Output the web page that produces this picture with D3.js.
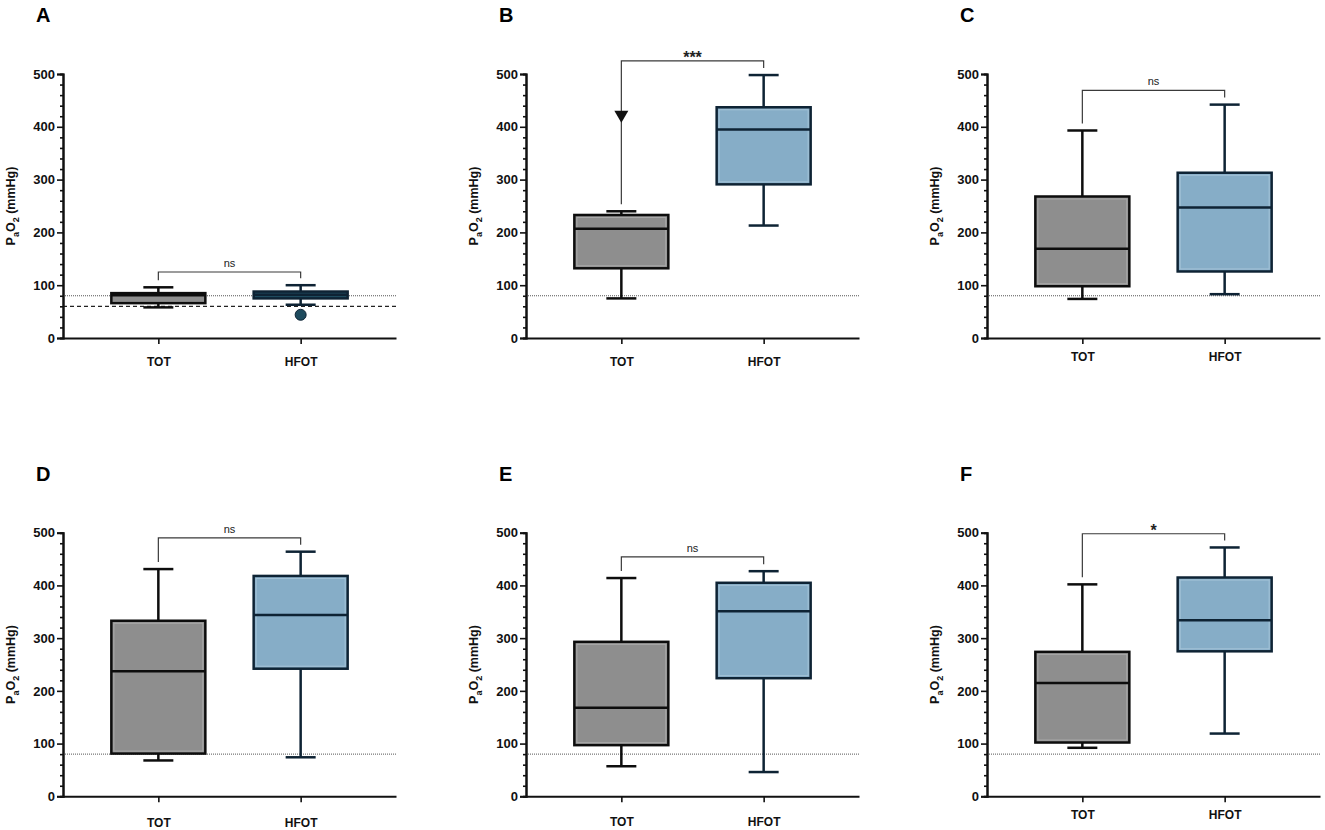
<!DOCTYPE html>
<html>
<head>
<meta charset="utf-8">
<script src="https://cdn.jsdelivr.net/npm/d3@7"></script>
<style>
  body { margin: 0; background: #fff; }
  text { font-family: "Liberation Sans", Arial, sans-serif; }
</style>
</head>
<body>
<div id="place"></div>
<script>
// values (mmHg)
const panels = ["A", "B", "C", "D", "E", "F"];
const groups = ["TOT", "HFOT"];

const totMin = [58, 75, 74, 68, 57, 92];
const totQ1  = [66, 132, 98, 81, 97, 102];
const totMed = [81, 207, 169, 237, 168, 215];
const totQ3  = [85, 233, 268, 333, 293, 274];
const totMax = [96, 240, 393, 431, 414, 402];

const hfotMin = [63, 213, 83, 74, 46, 119];
const hfotQ1  = [75, 291, 126, 242, 224, 275];
const hfotMed = [82, 395, 247, 344, 351, 334];
const hfotQ3  = [88, 437, 313, 418, 405, 415];
const hfotMax = [100, 498, 442, 464, 427, 472];

const bracketAt = [125, 525, 469, 490, 454, 498];
const sigLabels = ["ns", "***", "ns", "ns", "ns", "*"];

const outliers = [{ panel: "A", group: "HFOT", value: 44 }];
const arrowMarks = [{ panel: "B", group: "TOT", value: 419 }];

const yTicks = [0, 100, 200, 300, 400, 500];
const yMinorTicks = d3.range(0, 501, 20).filter(v => v % 100 !== 0);
const dottedRef = 80;
const dashedRef = { panel: "A", value: 60 };

(function() {

	const W = 1325, H = 830;
	const svg = d3.select("#place").append("svg")
		.attr("width", W)
		.attr("height", H);

	// layout of the 3x2 grid
	const colX = [63, 526, 987];
	const rowTop = [74, 532.7];
	const rowBottom = [338, 796.3];
	const plotW = 333;
	const labelPad = { A: 13, B: 13, C: 8, D: 16, E: 15, F: 8 };

	const fills = { TOT: "#8e8e8e", HFOT: "#86adc7" };
	const inner = { TOT: "#ababab", HFOT: "#a6c4d8" };
	const strokes = { TOT: "#0d0d0d", HFOT: "#0e2334" };

	panels.forEach((p, i) => {
		const col = i % 3, row = Math.floor(i / 3);
		const x0 = colX[col];

		const y = d3.scaleLinear().domain([0, 500]).range([rowBottom[row], rowTop[row]]);
		const x = d3.scalePoint().domain(groups).range([x0, x0 + plotW]).padding(0.67);

		const g = svg.append("g").attr("class", "panel-" + p);

		// panel letter
		g.append("text")
			.attr("x", x0 - 27)
			.attr("y", rowTop[row] - 52)
			.style("font-size", "20px")
			.style("font-weight", "bold")
			.text(p);

		// reference lines
		g.append("line")
			.attr("x1", x0).attr("x2", x0 + plotW)
			.attr("y1", y(dottedRef)).attr("y2", y(dottedRef))
			.style("stroke", "#555")
			.style("stroke-width", 1)
			.style("stroke-dasharray", "1,1");
		if (dashedRef.panel === p) {
			g.append("line")
				.attr("x1", x0).attr("x2", x0 + plotW)
				.attr("y1", y(dashedRef.value)).attr("y2", y(dashedRef.value))
				.style("stroke", "#222")
				.style("stroke-width", 1.3)
				.style("stroke-dasharray", "4,3");
		}

		const stats = [
			{ grp: "TOT", min: totMin[i], q1: totQ1[i], med: totMed[i], q3: totQ3[i], max: totMax[i] },
			{ grp: "HFOT", min: hfotMin[i], q1: hfotQ1[i], med: hfotMed[i], q3: hfotQ3[i], max: hfotMax[i] }
		];

		const bw = 94, cap = 15;
		const boxes = g.selectAll("g.box").data(stats).enter().append("g").attr("class", "box");

		// whiskers
		boxes.append("line")
			.attr("x1", d => x(d.grp)).attr("x2", d => x(d.grp))
			.attr("y1", d => y(d.max)).attr("y2", d => y(d.q3))
			.style("stroke", d => strokes[d.grp]).style("stroke-width", 2.5);
		boxes.append("line")
			.attr("x1", d => x(d.grp)).attr("x2", d => x(d.grp))
			.attr("y1", d => y(d.q1)).attr("y2", d => y(d.min))
			.style("stroke", d => strokes[d.grp]).style("stroke-width", 2.5);
		boxes.selectAll("line.cap")
			.data(d => [{ grp: d.grp, v: d.max }, { grp: d.grp, v: d.min }])
			.enter().append("line").attr("class", "cap")
			.attr("x1", d => x(d.grp) - cap).attr("x2", d => x(d.grp) + cap)
			.attr("y1", d => y(d.v)).attr("y2", d => y(d.v))
			.style("stroke", d => strokes[d.grp]).style("stroke-width", 2.5);

		// box body
		const darkHfot = p === "A";
		boxes.append("rect")
			.attr("x", d => x(d.grp) - bw / 2)
			.attr("width", bw)
			.attr("y", d => y(d.q3))
			.attr("height", d => y(d.q1) - y(d.q3))
			.style("fill", d => (darkHfot && d.grp === "HFOT") ? "#1e4b5e" : fills[d.grp])
			.style("stroke", d => strokes[d.grp])
			.style("stroke-width", 2.5);
		// light inner edge
		boxes.filter(d => y(d.q1) - y(d.q3) > 12).append("rect")
			.attr("x", d => x(d.grp) - bw / 2 + 2.5)
			.attr("width", bw - 5)
			.attr("y", d => y(d.q3) + 2.5)
			.attr("height", d => y(d.q1) - y(d.q3) - 5)
			.style("fill", "none")
			.style("stroke", d => inner[d.grp])
			.style("stroke-width", 1);
		// median
		boxes.append("line")
			.attr("x1", d => x(d.grp) - bw / 2).attr("x2", d => x(d.grp) + bw / 2)
			.attr("y1", d => y(d.med)).attr("y2", d => y(d.med))
			.style("stroke", d => strokes[d.grp]).style("stroke-width", 2.5);

		// outliers
		g.selectAll("circle.out")
			.data(outliers.filter(o => o.panel === p))
			.enter().append("circle").attr("class", "out")
			.attr("cx", d => x(d.group))
			.attr("cy", d => y(d.value))
			.attr("r", 5.5)
			.style("fill", "#1e4b5e")
			.style("stroke", "#0e2334")
			.style("stroke-width", 1);

		// significance bracket
		const by = y(bracketAt[i]);
		const legL = y(totMax[i]) - 7, legR = y(hfotMax[i]) - 7;
		g.append("path")
			.attr("d", `M${x("TOT")},${legL}V${by}H${x("HFOT")}V${legR}`)
			.style("fill", "none")
			.style("stroke", "#3a3a3a")
			.style("stroke-width", 1.2);
		const star = sigLabels[i] !== "ns";
		g.append("text")
			.attr("x", (x("TOT") + x("HFOT")) / 2)
			.attr("y", star ? by + 2 : by - 5)
			.attr("text-anchor", "middle")
			.style("font-size", star ? "16px" : "11px")
			.style("font-weight", star ? "bold" : "normal")
			.style("fill", "#222")
			.text(sigLabels[i]);

		// down-pointing markers on the bracket leg
		g.selectAll("path.arrow")
			.data(arrowMarks.filter(a => a.panel === p))
			.enter().append("path").attr("class", "arrow")
			.attr("transform", d => `translate(${x(d.group)},${y(d.value)})`)
			.attr("d", "M-7,-6L7,-6L0,6Z")
			.style("fill", "#111");

		// axes
		const yMinor = g.append("g")
			.attr("transform", `translate(${x0},0)`)
			.call(d3.axisLeft(y).tickValues(yMinorTicks).tickSize(3).tickFormat(""));
		const yMajor = g.append("g")
			.attr("transform", `translate(${x0},0)`)
			.call(d3.axisLeft(y).tickValues(yTicks).tickSize(6).tickPadding(2));
		yMajor.selectAll("text")
			.style("font-size", "13px")
			.style("font-weight", "bold")
			.style("fill", "#111");
		[yMinor, yMajor].forEach(a => {
			a.select(".domain").style("stroke", "#111").style("stroke-width", 2);
			a.selectAll(".tick line").style("stroke", "#111").style("stroke-width", 1.6);
		});

		const xAxis = g.append("g")
			.attr("transform", `translate(0,${rowBottom[row]})`)
			.call(d3.axisBottom(x).tickSize(6).tickPadding(labelPad[p]).tickSizeOuter(0));
		xAxis.select(".domain").style("stroke", "#111").style("stroke-width", 2);
		xAxis.selectAll(".tick line").style("stroke", "#111").style("stroke-width", 1.6);
		xAxis.selectAll("text")
			.style("font-size", "12px")
			.style("font-weight", "bold")
			.style("fill", "#111");

		// y label PaO2 (mmHg)
		const yl = g.append("text")
			.attr("transform", `translate(${x0 - 48},${(rowTop[row] + rowBottom[row]) / 2}) rotate(-90)`)
			.attr("text-anchor", "middle")
			.style("font-size", "12.5px")
			.style("font-weight", "bold")
			.style("fill", "#111");
		yl.append("tspan").text("P");
		yl.append("tspan").attr("dy", 3.5).style("font-size", "9px").text("a");
		yl.append("tspan").attr("dy", -3.5).text("O");
		yl.append("tspan").attr("dy", 3.5).style("font-size", "9px").text("2");
		yl.append("tspan").attr("dy", -3.5).text(" (mmHg)");
	});

})()
</script>
</body>
</html>
